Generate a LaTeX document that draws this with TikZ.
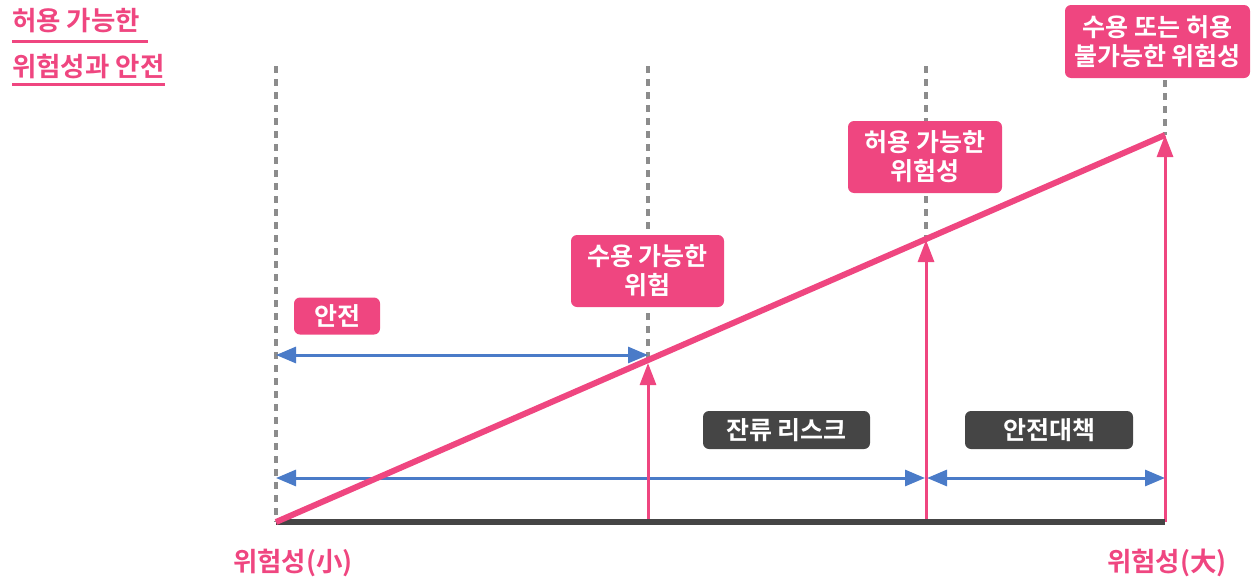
\documentclass[tikz,border=0pt]{standalone}
\usepackage{fontspec}
\setmainfont{Noto Sans CJK KR}[BoldFont={* Bold}]
\usetikzlibrary{arrows.meta}
\definecolor{pnkred}{HTML}{EF4680}
\definecolor{blulin}{HTML}{4A7BC8}
\definecolor{drkgry}{HTML}{454545}
\definecolor{dshgry}{HTML}{8C8C8C}
\tikzset{
  pinkbox/.style={fill=pnkred,text=white,rounded corners=6pt,font=\bfseries\fontsize{25}{29}\selectfont,align=center,inner sep=0pt},
  graybox/.style={fill=drkgry,text=white,rounded corners=6pt,font=\bfseries\fontsize{25}{29}\selectfont,align=center,inner sep=0pt},
  guide/.style={color=dshgry,line width=3.5pt,dash pattern=on 7pt off 6pt},
  span/.style={color=blulin,line width=3pt,{Triangle[length=20pt,width=16pt]}-{Triangle[length=20pt,width=16pt]}},
  rise/.style={color=pnkred,line width=3pt,-{Triangle[length=22pt,width=16pt]}},
  axlbl/.style={text=pnkred,font=\bfseries\fontsize{26.5}{30}\selectfont}
}
\begin{document}
\begin{tikzpicture}[line cap=butt,line join=round,x=1pt,y=-1pt]
      \useasboundingbox (0,0) rectangle (1253,581);
      % points on the axis
      \coordinate (o) at (276,522);
      \coordinate (pa) at (648,522);
      \coordinate (pb) at (926,522);
      \coordinate (pc) at (1165,522);
      \coordinate (ta) at (648,363);
      \coordinate (tb) at (926,240);
      \coordinate (tc) at (1165,135);
      % guides
      \draw [guide] (276,66) -- (o);
      \draw [guide] (648,66) -- (ta);
      \draw [guide] (926,66) -- (tb);
      \draw [guide] (1165,80) -- (tc);
      % spans
      \coordinate (sl) at (276,355);
      \coordinate (sr) at (648,355);
      \coordinate (rl) at (276,478);
      \coordinate (rr) at (925,478);
      \coordinate (ml) at (927,478);
      \coordinate (mr) at (1165,478);
      \draw [span] (sl) -- (sr);
      \draw [span] (rl) -- (rr);
      \draw [span] (ml) -- (mr);
      % rises
      \draw [rise] (pa) -- (ta);
      \draw [rise] (pb) -- (tb);
      \draw [rise] (pc) -- (tc);
      % axis and risk line
      \draw [color=drkgry,line width=6pt] (o) -- (pc);
      \draw [color=pnkred,line width=6pt] (o) -- (tc);
      % labels
      \node [pinkbox,minimum width=86pt,minimum height=37pt] (safe) at (337,316) {안전};
      \node [pinkbox,minimum width=153pt,minimum height=72pt] (accept) at (647.5,271) {수용 가능한\\위험};
      \node [pinkbox,minimum width=154pt,minimum height=72pt] (toler) at (925,157) {허용 가능한\\위험성};
      \node [pinkbox,minimum width=185pt,minimum height=73pt] (unacc) at (1157.5,41.5) {수용 또는 허용\\불가능한 위험성};
      \node [graybox,minimum width=167pt,minimum height=38pt] (resid) at (786.5,430) {잔류 리스크};
      \node [graybox,minimum width=168pt,minimum height=38pt] (meas) at (1049,430) {안전대책};
      \node [axlbl] (lo) at (293,563) {위험성(小)};
      \node [axlbl] (hi) at (1167,563) {위험성(大)};
      % title
      \node [axlbl,anchor=west,inner sep=0pt] (t1) at (12,21) {허용 가능한};
      \node [axlbl,anchor=west,inner sep=0pt] (t2) at (12,66) {위험성과 안전};
      \draw [color=pnkred,line width=3pt] (12,41) -- (148,41);
      \draw [color=pnkred,line width=3pt] (12,84) -- (165,84);
\end{tikzpicture}
\end{document}
